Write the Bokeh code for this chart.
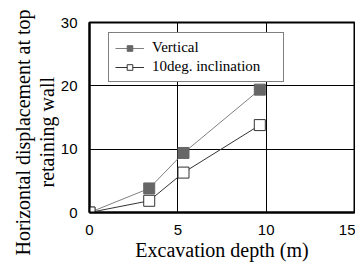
from bokeh.plotting import figure
from bokeh.models import Range1d, FixedTicker, Legend, LegendItem, Title
from bokeh.embed import file_html
from bokeh.resources import INLINE

depth = [0, 3.38, 5.32, 9.64]
vertical = [0, 3.8, 9.4, 19.4]
inclined = [0, 1.85, 6.3, 13.8]
x_ticks = [0, 5, 10, 15]
y_ticks = [0, 10, 20, 30]
y_label_lines = ["Horizontal displacement  at top", "retaining wall"]
y_label_offsets = [-43, 25]

p = figure(width=355, height=264, output_backend="svg", toolbar_location=None,
           x_range=Range1d(0, 15), y_range=Range1d(0, 30),
           min_border_left=89, min_border_right=1, min_border_top=22, min_border_bottom=52)
p.outline_line_color = "black"
p.outline_line_width = 2

for ax in (p.xaxis[0], p.yaxis[0]):
    ax.major_tick_line_color = None
    ax.minor_tick_line_color = None
    ax.major_tick_out = 0
    ax.major_tick_in = 0
    ax.minor_tick_out = 0
    ax.minor_tick_in = 0
    ax.axis_line_color = "black"
    ax.axis_line_width = 2
    ax.major_label_text_font = "Liberation Sans"
    ax.major_label_text_font_size = "15px"
    ax.major_label_text_color = "black"
    ax.axis_label_text_font = "Liberation Serif"
    ax.axis_label_text_font_size = "20px"
    ax.axis_label_text_font_style = "normal"
    ax.axis_label_text_color = "black"

p.xaxis.ticker = FixedTicker(ticks=x_ticks)
p.yaxis.ticker = FixedTicker(ticks=y_ticks)
p.xaxis.major_label_standoff = 12
p.yaxis.major_label_standoff = 12
p.yaxis.axis_label_standoff = 0
p.xaxis.axis_label = "Excavation depth (m)"
p.xaxis.axis_label_standoff = 1

# y-axis title: two lines, placed as titles on the left (inner line first)
for txt, off in reversed(list(zip(y_label_lines, y_label_offsets))):
    p.add_layout(Title(text=txt, align="left", offset=off, standoff=0,
                       vertical_align="bottom",
                       text_font="Liberation Serif", text_font_size="20px",
                       text_font_style="normal", text_color="black"), "left")

p.xgrid.grid_line_color = "black"
p.ygrid.grid_line_color = "black"
p.xgrid.grid_line_width = 1
p.ygrid.grid_line_width = 1

l1 = p.line(depth, vertical, line_color="#808080", line_width=1)
s1 = p.scatter(depth, vertical, marker="square", size=11, fill_color="#666666", line_color="#666666")
l2 = p.line(depth, inclined, line_color="#333333", line_width=1)
s2 = p.scatter(depth, inclined, marker="square", size=11, fill_color="white", line_color="#333333")

legend = Legend(items=[LegendItem(label="Vertical", renderers=[l1, s1]),
                       LegendItem(label="10deg. inclination", renderers=[l2, s2])],
                location=(19, 130))
legend.border_line_color = "black"
legend.border_line_width = 1
legend.background_fill_color = "white"
legend.background_fill_alpha = 1
legend.label_text_font = "Liberation Serif"
legend.label_text_font_size = "15px"
legend.label_text_color = "black"
legend.glyph_width = 29
legend.glyph_height = 14
legend.spacing = 2
legend.padding = 6
legend.margin = 0
legend.label_standoff = 8
legend.label_width = 125
p.add_layout(legend, "center")

open("out.html", "w").write(file_html(p, INLINE))
